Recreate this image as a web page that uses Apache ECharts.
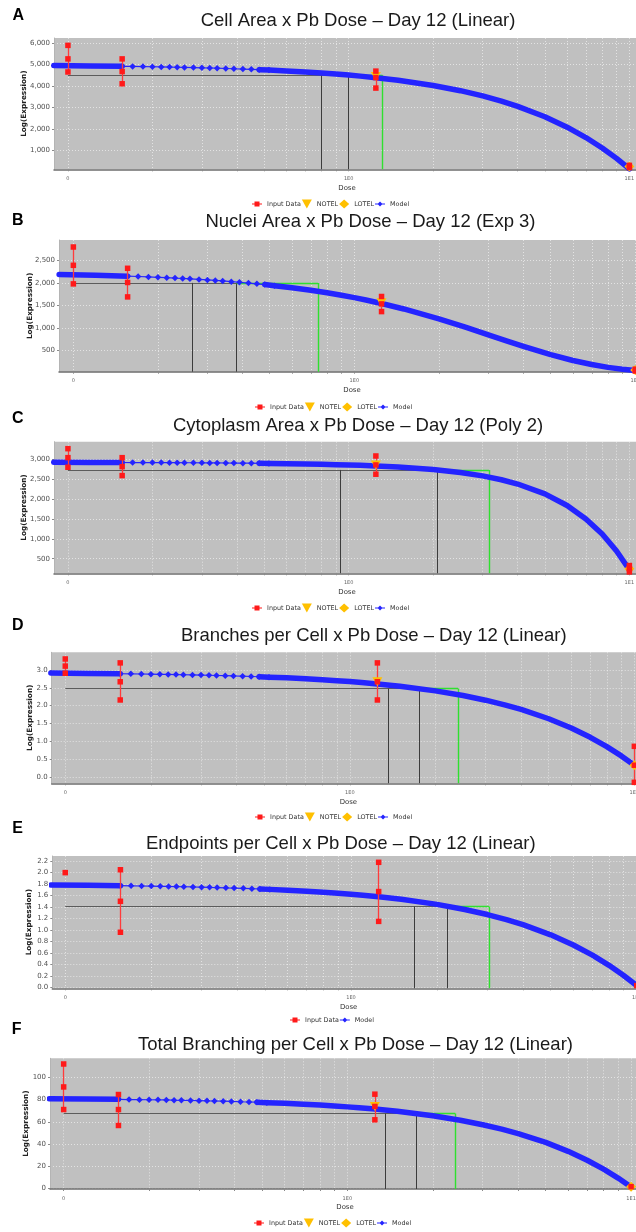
<!DOCTYPE html>
<html><head><meta charset="utf-8">
<script src="https://cdn.jsdelivr.net/npm/echarts@6/dist/echarts.min.js"></script>
<style>html,body{margin:0;padding:0;background:#fff}#c{width:636px;height:1232px}</style>
</head><body><div id="c"></div>
<script>
// ---------------- DATA ----------------
const DOSES = [0, 0.156, 1.25, 10];      // dose groups (0 is drawn at ZERO_AT on the log axis)
const ZERO_AT = 0.1;
const X_TICK_VALUES = [0.1, 1, 10];
const X_TICK_LABELS = ['0', '1E0', '1E1'];
const X_GRID_VALUES = [0.1,0.2,0.3,0.4,0.5,0.6,0.7,0.8,0.9,1,2,3,4,5,6,7,8,9,10];

const TITLES = [
  'Cell Area x Pb Dose \u2013 Day 12 (Linear)',
  'Nuclei Area x Pb Dose \u2013 Day 12 (Exp 3)',
  'Cytoplasm Area x Pb Dose \u2013 Day 12 (Poly 2)',
  'Branches per Cell x Pb Dose \u2013 Day 12 (Linear)',
  'Endpoints per Cell x Pb Dose \u2013 Day 12 (Linear)',
  'Total Branching per Cell x Pb Dose \u2013 Day 12 (Linear)'
];
const LETTERS = ['A','B','C','D','E','F'];

const Y_TICKS_A = [1000,2000,3000,4000,5000,6000];
const Y_TICKS_B = [500,1000,1500,2000,2500];
const Y_TICKS_C = [500,1000,1500,2000,2500,3000];
const Y_TICKS_D = [0,0.5,1,1.5,2,2.5,3];
const Y_TICKS_E = [0,0.2,0.4,0.6,0.8,1,1.2,1.4,1.6,1.8,2,2.2];
const Y_TICKS_F = [0,20,40,60,80,100];

// replicate values per dose group (same order as DOSES)
const INPUT_A = [[5890,5260,4650],[5260,4670,4100],[4690,4390,3900],[300,200]];
const INPUT_B = [[2794,2389,1978],[2323,2009,1690],[1699,1535,1365],[90,50]];
const INPUT_C = [[3258,3033,2793],[3033,2808,2583],[3075,2850,2618],[330,250,170]];
const INPUT_D = [[3.31,3.11,2.91],[3.2,2.67,2.16],[3.2,2.67,2.16],[0.86,0.33,-0.15]];
const INPUT_E = [[2.0],[2.05,1.5,0.96],[2.18,1.67,1.15],[0.03]];
const INPUT_F = [[111.9,91.3,71.0],[84.5,71.0,56.7],[84.8,73.8,61.8],[1.8]];

// NOTEL / LOTEL markers [dose, response]
const NOTEL_A = [1.25, 4440], LOTEL_A = [10, 250];
const NOTEL_B = [1.25, 1560], LOTEL_B = [10, 70];
const NOTEL_C = [1.25, 2850], LOTEL_C = [10, 250];
const NOTEL_D = [1.25, 2.67], LOTEL_D = [10, 0.33];
const NOTEL_F = [1.25, 73.8], LOTEL_F = [10, 1.8];

// [BMR response, BMDL, BMD, BMDU]
const BMD_A = [4502, 0.80, 1.00, 1.32];
const BMD_B = [2000, 0.264, 0.381, 0.743];
const BMD_C = [2725, 0.93, 2.07, 3.16];
const BMD_D = [2.48, 1.37, 1.75, 2.40];
const BMD_E = [1.41, 1.67, 2.17, 3.04];
const BMD_F = [67.4, 1.36, 1.75, 2.40];

// fitted model curve at these doses
const MODEL_DOSE = [0.089,0.12,0.156,0.17,0.185,0.2,0.215,0.23,0.245,0.26,0.28,0.3,0.32,0.34,0.365,0.39,0.42,0.45,0.48,0.52,0.6,0.7,0.8,0.9,1.0,1.1,1.25,1.5,2,2.5,3,3.5,4,5,6,7,8,9,10];
const MODEL_A = [4947,4932,4914,4908,4900,4893,4886,4878,4871,4864,4854,4845,4835,4825,4813,4801,4786,4772,4757,4738,4699,4651,4602,4554,4505,4457,4384,4263,4020,3778,3535,3293,3050,2565,2080,1595,1110,625,140];
const MODEL_B = [2186,2169,2149,2141,2132,2124,2115,2106,2098,2089,2077,2066,2054,2043,2028,2014,1996,1979,1962,1939,1893,1836,1781,1726,1673,1621,1544,1423,1204,1014,852,713,595,412,283,193,131,89,60];
const MODEL_C = [2916,2914,2912,2911,2910,2909,2909,2908,2907,2906,2905,2903,2902,2901,2899,2898,2896,2894,2892,2889,2883,2875,2867,2858,2849,2840,2825,2798,2735,2661,2576,2480,2372,2125,1833,1498,1118,693,225];
const MODEL_D = [2.913,2.905,2.895,2.892,2.888,2.884,2.880,2.876,2.872,2.868,2.863,2.858,2.853,2.847,2.841,2.834,2.827,2.819,2.811,2.800,2.780,2.754,2.728,2.701,2.675,2.649,2.610,2.545,2.415,2.285,2.154,2.024,1.894,1.633,1.372,1.112,0.851,0.591,0.330];
const MODEL_E = [1.784,1.779,1.772,1.770,1.767,1.765,1.762,1.759,1.757,1.754,1.750,1.747,1.743,1.740,1.735,1.731,1.726,1.720,1.715,1.708,1.694,1.676,1.658,1.641,1.623,1.605,1.579,1.535,1.446,1.358,1.269,1.181,1.092,0.915,0.738,0.561,0.384,0.207,0.030];
const MODEL_F = [80.7,80.4,80.2,80.0,79.9,79.8,79.7,79.6,79.4,79.3,79.2,79.0,78.8,78.7,78.5,78.3,78.0,77.8,77.6,77.2,76.6,75.8,75.0,74.2,73.4,72.6,71.4,69.4,65.4,61.4,57.4,53.4,49.4,41.5,33.5,25.5,17.5,9.5,1.5];

const LEGEND_FULL = ['Input Data','NOTEL','LOTEL','Model'];
const LEGEND_SHORT = ['Input Data','Model'];

const PANELS = [
  {input:INPUT_A, model:MODEL_A, notel:NOTEL_A, lotel:LOTEL_A, bmd:BMD_A, yTicks:Y_TICKS_A, yFmt:'comma', legend:LEGEND_FULL},
  {input:INPUT_B, model:MODEL_B, notel:NOTEL_B, lotel:LOTEL_B, bmd:BMD_B, yTicks:Y_TICKS_B, yFmt:'comma', legend:LEGEND_FULL},
  {input:INPUT_C, model:MODEL_C, notel:NOTEL_C, lotel:LOTEL_C, bmd:BMD_C, yTicks:Y_TICKS_C, yFmt:'comma', legend:LEGEND_FULL},
  {input:INPUT_D, model:MODEL_D, notel:NOTEL_D, lotel:LOTEL_D, bmd:BMD_D, yTicks:Y_TICKS_D, yFmt:'d1', legend:LEGEND_FULL},
  {input:INPUT_E, model:MODEL_E, notel:null,    lotel:null,    bmd:BMD_E, yTicks:Y_TICKS_E, yFmt:'d1', legend:LEGEND_SHORT},
  {input:INPUT_F, model:MODEL_F, notel:NOTEL_F, lotel:LOTEL_F, bmd:BMD_F, yTicks:Y_TICKS_F, yFmt:'int', legend:LEGEND_FULL}
];

// ---------------- LAYOUT ----------------
const LAYOUT = [
  {lx:18.3, ly:15.2, tx:358,   ty:20.5,   left:54,   top:38,     width:586,   height:131.3, xMin:0.0892, xMax:10.91, yMin:116,    yMax:6233,  nameGap:26.5, lgLeft:252, lgTop:199.5},
  {lx:17.8, ly:221,  tx:370.5, ty:222,    left:59,   top:240,    width:586,   height:131.7, xMin:0.0889, xMax:10.83, yMin:35,     yMax:2949,  nameGap:25,   lgLeft:255, lgTop:402.5},
  {lx:17.8, ly:419,  tx:358,   ty:426,    left:54,   top:441.7,  width:586,   height:131.6, xMin:0.0892, xMax:10.91, yMin:135,    yMax:3433,  nameGap:26.5, lgLeft:252, lgTop:603.5},
  {lx:17.8, ly:626,  tx:373.8, ty:636.3,  left:51.7, top:652.3,  width:593.3, height:131,   xMin:0.0896, xMax:10.90, yMin:-0.177, yMax:3.497, nameGap:18,   lgLeft:255, lgTop:812.5},
  {lx:17.5, ly:829,  tx:340.8, ty:843.8,  left:52.3, top:856,    width:592.7, height:132.3, xMin:0.0901, xMax:10.69, yMin:-0.017, yMax:2.29,  nameGap:19.3, lgLeft:290, lgTop:1015.5},
  {lx:16.7, ly:1029.5,tx:355.5,ty:1045.3, left:50,   top:1058.3, width:590,   height:130.7, xMin:0.0895, xMax:10.75, yMin:-0.3,   yMax:117,   nameGap:20,   lgLeft:254, lgTop:1218.5}
];

const BLUE = '#2424ff', RED = '#ff1a1a', GOLD = '#ffc000', GREEN = '#2fe02f';
const GRIDLINE = {color:'rgba(255,255,255,0.55)', width:1, type:[1,2]};
const SPECK = 'M0,0L0.01,0L0,0.01Z M10,9L9.99,9L10,8.99Z ';
const ICONS = {
  'Input Data': 'path://' + SPECK + 'M0,4L2.5,4L2.5,2L7.5,2L7.5,4L10,4L10,5L7.5,5L7.5,7L2.5,7L2.5,5L0,5Z',
  'NOTEL': 'path://M0,0L10,0L5,9Z',
  'LOTEL': 'path://M5,0L10,4.5L5,9L0,4.5Z',
  'Model': 'path://' + SPECK + 'M0,4L3,4L5,2L7,4L10,4L10,5L7,5L5,7L3,5L0,5Z'
};
const FMT = {
  comma: v => String(Math.round(v)).replace(/\B(?=(\d{3})+(?!\d))/g, ','),
  d1: v => Number(v).toFixed(1),
  int: v => String(Math.round(v))
};
const xPos = d => (d === 0 ? ZERO_AT : d);
const xLabel = v => {
  for (let k = 0; k < X_TICK_VALUES.length; k++) {
    if (Math.abs(Math.log10(v) - Math.log10(X_TICK_VALUES[k])) < 1e-6) return X_TICK_LABELS[k];
  }
  return '';
};

const option = {animation:false, backgroundColor:'#ffffff', title:[], legend:[], grid:[], xAxis:[], yAxis:[], series:[]};

PANELS.forEach((p, i) => {
  const L = LAYOUT[i];
  option.title.push({text:LETTERS[i], left:L.lx, top:L.ly, textAlign:'center', textVerticalAlign:'middle', padding:0,
    textStyle:{fontFamily:'Liberation Sans', fontWeight:'bold', fontSize:16, color:'#000'}});
  option.title.push({text:TITLES[i], left:L.tx, top:L.ty, textAlign:'center', textVerticalAlign:'middle', padding:0,
    textStyle:{fontFamily:'Liberation Sans', fontWeight:'normal', fontSize:18.5, color:'#1a1a1a'}});
  option.legend.push({left:L.lgLeft, top:L.lgTop, padding:0, itemWidth:10, itemHeight:9, itemGap:1, selectedMode:false,
    textStyle:{fontFamily:'DejaVu Sans', fontSize:6.4, color:'#333'},
    data:p.legend.map(n => ({name:n, icon:ICONS[n]}))});
  option.grid.push({left:L.left, top:L.top, width:L.width, height:L.height, show:true, backgroundColor:'#c0c0c0',
    borderWidth:0, containLabel:false, outerBoundsMode:'none'});
  option.xAxis.push({type:'log', logBase:10, gridIndex:i, min:L.xMin, max:L.xMax,
    axisLine:{show:true, onZero:false, lineStyle:{color:'#6e6e6e', width:1.5}},
    axisTick:{show:true, length:2, customValues:X_GRID_VALUES, lineStyle:{color:'#8a8a8a'}},
    axisLabel:{show:true, customValues:X_TICK_VALUES, formatter:xLabel, margin:7, fontFamily:'DejaVu Sans', fontSize:5, color:'#666'},
    splitLine:{show:true, lineStyle:GRIDLINE},
    minorTick:{show:false}, minorSplitLine:{show:false},
    name:'Dose', nameLocation:'middle', nameGap:15, nameMoveOverlap:false,
    nameTextStyle:{fontFamily:'DejaVu Sans', fontSize:6.9, color:'#333'}});
  option.yAxis.push({type:'value', gridIndex:i, min:L.yMin, max:L.yMax,
    axisLine:{show:true, onZero:false, lineStyle:{color:'#b4b4b4', width:1}},
    axisTick:{show:true, length:2, customValues:p.yTicks, lineStyle:{color:'#8a8a8a'}},
    axisLabel:{show:true, customValues:p.yTicks, formatter:FMT[p.yFmt], margin:4, fontFamily:'DejaVu Sans', fontSize:7, color:'#505050'},
    splitLine:{show:true, lineStyle:GRIDLINE},
    name:'Log(Expression)', nameLocation:'middle', nameRotate:90, nameGap:L.nameGap, nameMoveOverlap:false,
    nameTextStyle:{fontFamily:'DejaVu Sans', fontWeight:'bold', fontSize:7.3, color:'#222'}});

  const ax = {xAxisIndex:i, yAxisIndex:i};
  const [bmr, bmdl, bmd, bmdu] = p.bmd;
  // BMD / BMDL / BMDU guide lines
  option.series.push(Object.assign({type:'lines', coordinateSystem:'cartesian2d', silent:true, z:2, polyline:false,
    lineStyle:{width:1, opacity:1, curveness:0},
    data:[
      {coords:[[xPos(0), bmr], [bmd, bmr]], lineStyle:{color:'#5c5c5c'}},
      {coords:[[bmdl, bmr], [bmdl, L.yMin]], lineStyle:{color:'#3c3c3c'}},
      {coords:[[bmd, bmr], [bmd, L.yMin]], lineStyle:{color:'#3c3c3c'}},
      {coords:[[bmd, bmr], [bmdu, bmr]], lineStyle:{color:GREEN, width:1.4}},
      {coords:[[bmdu, bmr], [bmdu, L.yMin]], lineStyle:{color:GREEN, width:1.4}}
    ]}, ax));
  // Model: sparse diamonds in the middle, dense band elsewhere
  option.series.push(Object.assign({type:'line', name:'Model', z:4, silent:true, symbol:'diamond', symbolSize:6.5, showAllSymbol:true,
    itemStyle:{color:BLUE}, lineStyle:{color:BLUE, width:1.2},
    data:MODEL_DOSE.map((d,k) => [d, p.model[k]]).filter(q => q[0] >= 0.156 && q[0] <= 0.52)}, ax));
  option.series.push(Object.assign({type:'line', name:'Model', z:4, silent:true, symbol:'none', smooth:false,
    itemStyle:{color:BLUE}, lineStyle:{color:BLUE, width:5.5, join:'round', cap:'round'},
    data:MODEL_DOSE.map((d,k) => [d, p.model[k]]).filter(q => q[0] <= 0.156)}, ax));
  option.series.push(Object.assign({type:'line', name:'Model', z:4, silent:true, symbol:'none', smooth:false,
    itemStyle:{color:BLUE}, lineStyle:{color:BLUE, width:5.5, join:'round', cap:'round'},
    data:MODEL_DOSE.map((d,k) => [d, p.model[k]]).filter(q => q[0] >= 0.48)}, ax));
  // error bars (range of replicates)
  option.series.push(Object.assign({type:'lines', coordinateSystem:'cartesian2d', silent:true, z:5,
    lineStyle:{color:'#ff3b3b', width:1.3, opacity:1},
    data:p.input.filter(v => v.length > 1).map(v => {
      const k = p.input.indexOf(v);
      return {coords:[[xPos(DOSES[k]), Math.min(...v)], [xPos(DOSES[k]), Math.max(...v)]]};
    })}, ax));
  if (p.notel) option.series.push(Object.assign({type:'scatter', name:'NOTEL', z:6, silent:true,
    symbol:ICONS['NOTEL'], symbolSize:[10,9], itemStyle:{color:GOLD, opacity:1}, data:[p.notel]}, ax));
  if (p.lotel) option.series.push(Object.assign({type:'scatter', name:'LOTEL', z:6, silent:true,
    symbol:'diamond', symbolSize:[10,10], itemStyle:{color:GOLD, opacity:1}, data:[p.lotel]}, ax));
  const pts = [];
  p.input.forEach((vals, k) => vals.forEach(v => pts.push([xPos(DOSES[k]), v])));
  option.series.push(Object.assign({type:'scatter', name:'Input Data', z:7, silent:true,
    symbol:'rect', symbolSize:5.5, itemStyle:{color:RED, opacity:1}, data:pts}, ax));
});

const chart = echarts.init(document.getElementById('c'), null, {renderer:'canvas'});
chart.setOption(option);
</script></body></html>
